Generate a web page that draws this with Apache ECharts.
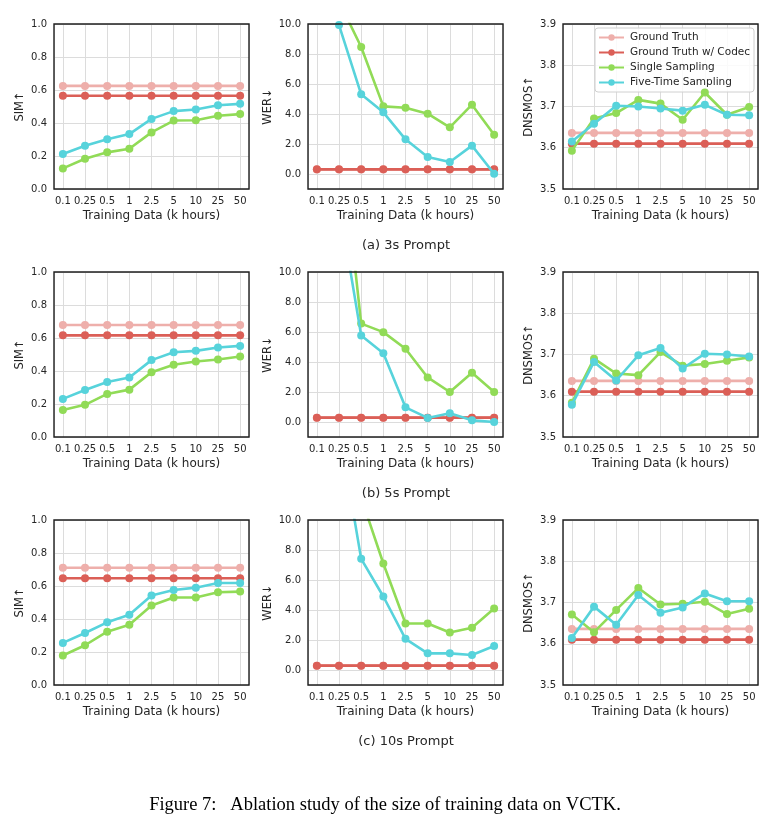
<!DOCTYPE html>
<html>
<head>
<meta charset="utf-8">
<script src="https://cdn.jsdelivr.net/npm/echarts@6/dist/echarts.min.js"></script>
<style>
html,body{margin:0;padding:0;background:#fff;}
#chart{width:772px;height:830px;}
</style>
</head>
<body>
<div id="chart"></div>
<script>
// ---------------- data ----------------
const categories = ['0.1', '0.25', '0.5', '1', '2.5', '5', '10', '25', '50'];
const seriesNames = ['Ground Truth', 'Ground Truth w/ Codec', 'Single Sampling', 'Five-Time Sampling'];
const rowCaptions = ['(a) 3s Prompt', '(b) 5s Prompt', '(c) 10s Prompt'];
const metricNames = ['SIM↑', 'WER↓', 'DNSMOS↑'];
const simTicks = [0, 0.2, 0.4, 0.6, 0.8, 1.0];
const werTicks = [0, 2, 4, 6, 8, 10];
const dnsmosTicks = [3.5, 3.6, 3.7, 3.8, 3.9];

// (a) 3s prompt
const sim3_gt      = [0.625, 0.625, 0.625, 0.625, 0.625, 0.625, 0.625, 0.625, 0.625];
const sim3_codec   = [0.565, 0.565, 0.565, 0.565, 0.565, 0.565, 0.565, 0.565, 0.565];
const sim3_single  = [0.125, 0.183, 0.222, 0.244, 0.343, 0.415, 0.417, 0.444, 0.454];
const sim3_five    = [0.212, 0.262, 0.302, 0.333, 0.425, 0.472, 0.482, 0.508, 0.516];
const wer3_gt      = [0.30, 0.30, 0.30, 0.30, 0.30, 0.30, 0.30, 0.30, 0.30];
const wer3_codec   = [0.31, 0.31, 0.31, 0.31, 0.31, 0.31, 0.31, 0.31, 0.31];
const wer3_single  = [20.0, 11.5, 8.47, 4.51, 4.42, 4.02, 3.11, 4.62, 2.62];
const wer3_five    = [20.0, 9.93, 5.31, 4.11, 2.31, 1.13, 0.80, 1.89, 0.02];
const dns3_gt      = [3.636, 3.636, 3.636, 3.636, 3.636, 3.636, 3.636, 3.636, 3.636];
const dns3_codec   = [3.610, 3.610, 3.610, 3.610, 3.610, 3.610, 3.610, 3.610, 3.610];
const dns3_single  = [3.593, 3.671, 3.684, 3.716, 3.707, 3.668, 3.734, 3.680, 3.699];
const dns3_five    = [3.615, 3.658, 3.702, 3.700, 3.695, 3.690, 3.704, 3.680, 3.679];

// (b) 5s prompt
const sim5_gt      = [0.679, 0.679, 0.679, 0.679, 0.679, 0.679, 0.679, 0.679, 0.679];
const sim5_codec   = [0.616, 0.616, 0.616, 0.616, 0.616, 0.616, 0.616, 0.616, 0.616];
const sim5_single  = [0.163, 0.195, 0.261, 0.287, 0.392, 0.438, 0.458, 0.470, 0.488];
const sim5_five    = [0.231, 0.285, 0.333, 0.360, 0.466, 0.514, 0.522, 0.542, 0.552];
const wer5_gt      = [0.29, 0.29, 0.29, 0.29, 0.29, 0.29, 0.29, 0.29, 0.29];
const wer5_codec   = [0.29, 0.29, 0.29, 0.29, 0.29, 0.29, 0.29, 0.29, 0.29];
const wer5_single  = [30.0, 20.1, 6.56, 5.99, 4.88, 2.97, 2.00, 3.28, 2.00];
const wer5_five    = [30.0, 14.6, 5.76, 4.59, 0.98, 0.27, 0.58, 0.11, 0.00];
const dns5_gt      = [3.636, 3.636, 3.636, 3.636, 3.636, 3.636, 3.636, 3.636, 3.636];
const dns5_codec   = [3.610, 3.610, 3.610, 3.610, 3.610, 3.610, 3.610, 3.610, 3.610];
const dns5_single  = [3.583, 3.690, 3.654, 3.650, 3.706, 3.673, 3.677, 3.685, 3.693];
const dns5_five    = [3.578, 3.682, 3.637, 3.698, 3.716, 3.666, 3.702, 3.700, 3.695];

// (c) 10s prompt
const sim10_gt     = [0.711, 0.711, 0.711, 0.711, 0.711, 0.711, 0.711, 0.711, 0.711];
const sim10_codec  = [0.647, 0.647, 0.647, 0.647, 0.647, 0.647, 0.647, 0.647, 0.647];
const sim10_single = [0.179, 0.241, 0.323, 0.365, 0.482, 0.530, 0.530, 0.562, 0.566];
const sim10_five   = [0.255, 0.315, 0.380, 0.426, 0.542, 0.576, 0.590, 0.618, 0.618];
const wer10_gt     = [0.29, 0.29, 0.29, 0.29, 0.29, 0.29, 0.29, 0.29, 0.29];
const wer10_codec  = [0.29, 0.29, 0.29, 0.29, 0.29, 0.29, 0.29, 0.29, 0.29];
const wer10_single = [30.0, 20.0, 11.5, 7.10, 3.10, 3.10, 2.50, 2.82, 4.10];
const wer10_five   = [30.0, 16.1, 7.41, 4.90, 2.08, 1.11, 1.11, 1.00, 1.60];
const dns10_gt     = [3.636, 3.636, 3.636, 3.636, 3.636, 3.636, 3.636, 3.636, 3.636];
const dns10_codec  = [3.610, 3.610, 3.610, 3.610, 3.610, 3.610, 3.610, 3.610, 3.610];
const dns10_single = [3.671, 3.628, 3.682, 3.735, 3.695, 3.697, 3.702, 3.672, 3.685];
const dns10_five   = [3.614, 3.690, 3.646, 3.718, 3.675, 3.688, 3.722, 3.703, 3.703];

// ---------------- layout / style ----------------
const panels = [
  [[sim3_gt, sim3_codec, sim3_single, sim3_five], [wer3_gt, wer3_codec, wer3_single, wer3_five], [dns3_gt, dns3_codec, dns3_single, dns3_five]],
  [[sim5_gt, sim5_codec, sim5_single, sim5_five], [wer5_gt, wer5_codec, wer5_single, wer5_five], [dns5_gt, dns5_codec, dns5_single, dns5_five]],
  [[sim10_gt, sim10_codec, sim10_single, sim10_five], [wer10_gt, wer10_codec, wer10_single, wer10_five], [dns10_gt, dns10_codec, dns10_single, dns10_five]]
];
const colors = ['#eeafab', '#db5f57', '#91db57', '#57d3db'];
const colLeft = [54, 308, 563];
const rowTop = [24, 272, 520];
const gridW = 195, gridH = 165;
const yNameGap = [28, 34, 28];
const FONT = 'DejaVu Sans';
const TXT = '#262626';

const yConf = [
  {min: simTicks[0], max: simTicks[simTicks.length - 1], interval: 0.2, fmt: v => v.toFixed(1)},
  {min: -1, max: werTicks[werTicks.length - 1], splitNumber: 5, fmt: v => (v < -1e-9 ? '' : v.toFixed(1))},
  {min: dnsmosTicks[0], max: dnsmosTicks[dnsmosTicks.length - 1], interval: 0.1, fmt: v => v.toFixed(1)}
];

const grid = [], xAxis = [], yAxis = [], series = [], graphic = [];
let gi = 0;
for (let r = 0; r < 3; r++) {
  for (let c = 0; c < 3; c++) {
    grid.push({left: colLeft[c], top: rowTop[r], width: gridW, height: gridH, show: true,
      borderColor: '#1e1e1e', borderWidth: 1.4, backgroundColor: 'transparent', containLabel: false, z: 10});
    xAxis.push({
      type: 'value', gridIndex: gi, min: -0.4, max: categories.length - 1 + 0.4, splitNumber: 9,
      name: 'Training Data (k hours)', nameLocation: 'middle', nameGap: 21,
      nameTextStyle: {fontFamily: FONT, fontSize: 12, color: TXT},
      axisLine: {show: false}, axisTick: {show: false},
      axisLabel: {fontFamily: FONT, fontSize: 10, color: TXT, margin: 7, showMinLabel: true, showMaxLabel: true,
        formatter: v => { const k = Math.round(v); return Math.abs(v - k) < 1e-6 && k >= 0 && k < categories.length ? categories[k] : ''; }},
      splitLine: {show: true, lineStyle: {color: '#dcdcdc', width: 1}}
    });
    const yc = yConf[c];
    const ya = {
      type: 'value', gridIndex: gi, min: yc.min, max: yc.max,
      name: metricNames[c], nameLocation: 'middle', nameGap: yNameGap[c],
      nameTextStyle: {fontFamily: FONT, fontSize: 11.5, color: TXT},
      axisLine: {show: false}, axisTick: {show: false},
      axisLabel: {fontFamily: FONT, fontSize: 10, color: TXT, margin: 7, formatter: yc.fmt},
      splitLine: {show: true, lineStyle: {color: '#dcdcdc', width: 1}}
    };
    if (yc.interval) ya.interval = yc.interval; else ya.splitNumber = yc.splitNumber;
    yAxis.push(ya);
    const arrs = panels[r][c];
    for (let s = 0; s < 4; s++) {
      series.push({
        name: seriesNames[s], type: 'line', xAxisIndex: gi, yAxisIndex: gi,
        data: arrs[s].map((v, i) => [i, v]),
        symbol: 'circle', symbolSize: 8, clip: true,
        lineStyle: {color: colors[s], width: 2.6},
        itemStyle: {color: colors[s]},
        z: 2 + s, animation: false
      });
    }
    gi++;
  }
  graphic.push({type: 'text', x: 406, y: rowTop[r] + 222, style: {text: rowCaptions[r],
    font: '13px "DejaVu Sans"', fill: TXT, align: 'center', verticalAlign: 'middle'}});
}
graphic.push({type: 'text', x: 385, y: 805, style: {text: 'Figure 7:   Ablation study of the size of training data on VCTK.',
  font: '18.5px "Liberation Serif"', fill: '#000', align: 'center', verticalAlign: 'middle'}});

const chart = echarts.init(document.getElementById('chart'), null, {renderer: 'canvas'});
chart.setOption({
  animation: false,
  backgroundColor: '#fff',
  grid, xAxis, yAxis, series, graphic,
  legend: {
    data: seriesNames, orient: 'vertical', left: 595, top: 28,
    backgroundColor: 'rgba(255,255,255,0.85)', borderColor: '#d0d0d0', borderWidth: 1, borderRadius: 3,
    padding: [4, 4, 4, 3], itemGap: 4, itemWidth: 25, itemHeight: 8,
    textStyle: {fontFamily: FONT, fontSize: 10.5, color: TXT, padding: [0, 0, 0, 1]}
  }
});
</script>
</body>
</html>
